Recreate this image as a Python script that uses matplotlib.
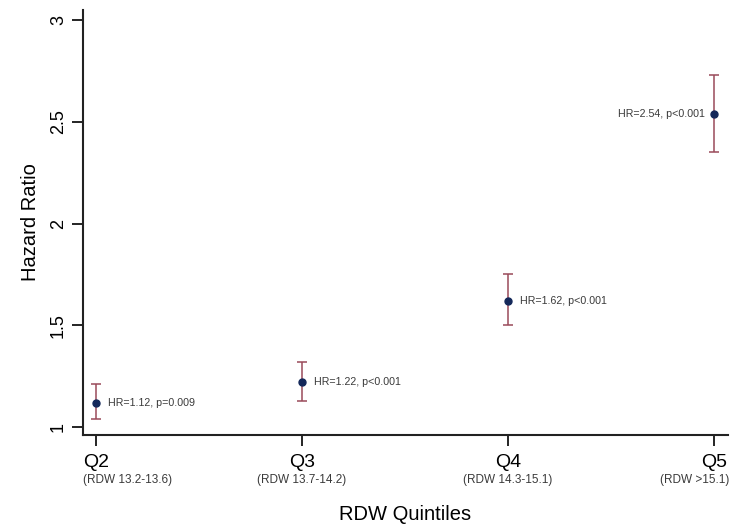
#rdw_hr.py: Hazard ratio by RDW quintile with 95% CI

import matplotlib.pyplot as plt

plt.rcParams['font.family'] = ['Liberation Sans', 'DejaVu Sans']

#quintile positions, hazard ratios and confidence limits
quintiles = ["Q2", "Q3", "Q4", "Q5"]
ranges = ["(RDW 13.2-13.6)", "(RDW 13.7-14.2)", "(RDW 14.3-15.1)", "(RDW >15.1)"]
xpos = [2, 3, 4, 5]
hr = [1.12, 1.22, 1.62, 2.54]
ci_low = [1.04, 1.13, 1.50, 2.35]
ci_high = [1.21, 1.32, 1.75, 2.73]
labels = ["HR=1.12, p=0.009", "HR=1.22, p<0.001", "HR=1.62, p<0.001", "HR=2.54, p<0.001"]

fig = plt.figure(figsize=(7.33, 5.29), dpi=100)
ax = fig.add_axes([0.1132, 0.1777, 0.88, 0.8033])

yerr = [[h - l for h, l in zip(hr, ci_low)], [u - h for h, u in zip(hr, ci_high)]]
ax.errorbar(xpos, hr, yerr=yerr, fmt="o", color="#14285a", ecolor="#9a4a5a",
            elinewidth=1.1, capsize=3.5, capthick=1.1, markersize=5)

for x, h, lab in zip(xpos, hr, labels):
    if x == 5:
        ax.text(x - 0.045, h, lab, fontsize=7.7, color="#3a3a3a", ha="right", va="center")
    else:
        ax.text(x + 0.06, h, lab, fontsize=7.7, color="#3a3a3a", ha="left", va="center")

ax.set_xlim(1.937, 5.068)
ax.set_ylim(0.961, 3.05)
ax.set_xticks(xpos)
ax.set_xticklabels(quintiles, fontsize=14)
ax.set_yticks([1, 1.5, 2, 2.5, 3])
ax.set_yticklabels(["1", "1.5", "2", "2.5", "3"], fontsize=13, rotation=90, va="center")
ax.tick_params(length=8, width=1.2)
ax.tick_params(axis="x", pad=6)

#quintile ranges under the tick labels
range_x = [1.937, 3.0, 4.0, 5.075]
range_ha = ["left", "center", "center", "right"]
for x, r, ha in zip(range_x, ranges, range_ha):
    ax.text(x, -0.106, r, fontsize=8.5, color="#3a3a3a", ha=ha, va="center",
            transform=ax.get_xaxis_transform(), clip_on=False)

for s in ["top", "right"]:
    ax.spines[s].set_visible(False)
for s in ["left", "bottom"]:
    ax.spines[s].set_linewidth(1.5)
    ax.spines[s].set_color("#222222")

ax.set_ylabel("Hazard Ratio", fontsize=14.5, labelpad=7)
ax.set_xlabel("RDW Quintiles", fontsize=14.5, labelpad=24)

fig.savefig("out.png")
